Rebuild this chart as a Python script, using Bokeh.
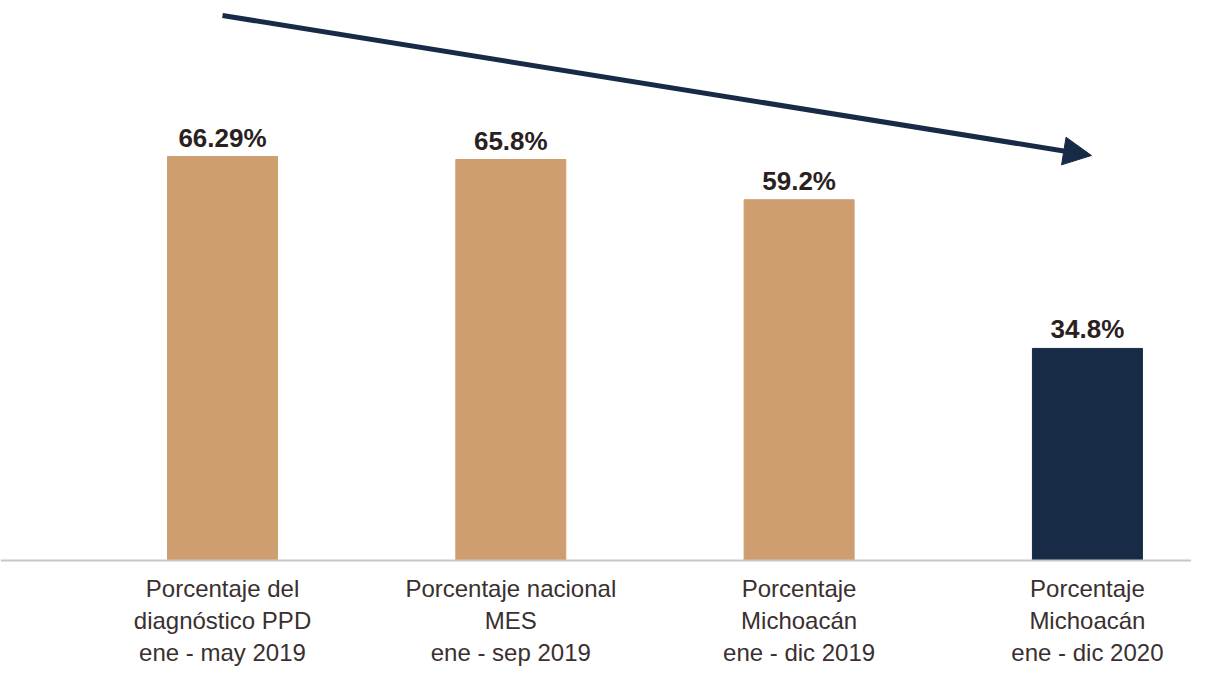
from bokeh.plotting import figure
from bokeh.models import ColumnDataSource, Range1d, Span, Arrow, NormalHead
from bokeh.core.properties import value
from bokeh.embed import file_html
from bokeh.resources import INLINE

# Data
categories = [
    "Porcentaje del\ndiagnóstico PPD\nene - may 2019",
    "Porcentaje nacional\nMES\nene - sep 2019",
    "Porcentaje\nMichoacán\nene - dic 2019",
    "Porcentaje\nMichoacán\nene - dic 2020",
]
values = [66.29, 65.8, 59.2, 34.8]
value_labels = ["66.29%", "65.8%", "59.2%", "34.8%"]
colors = ["#CE9E70", "#CE9E70", "#CE9E70", "#172B46"]

xs = list(range(len(categories)))
src = ColumnDataSource(dict(x=xs, top=values, lab=value_labels, cat=categories, color=colors))

p = figure(width=1191, height=678, output_backend="svg", toolbar_location=None,
           x_range=Range1d(-0.770, 3.361), y_range=Range1d(-19.36, 91.89),
           min_border=0, outline_line_color=None, background_fill_color="white",
           border_fill_color="white")
p.xaxis.visible = False
p.yaxis.visible = False
p.xgrid.visible = False
p.ygrid.visible = False

p.vbar(x="x", top="top", bottom=0, width=0.3815, color="color", source=src)

p.add_layout(Span(location=0, dimension="width", line_color="#C9C7C5", line_width=2))

p.text(x="x", y="top", text="lab", source=src, text_align="center",
       text_baseline="alphabetic", y_offset=-19, text_font=value("Liberation Sans"),
       text_font_style="bold", text_font_size="26px", text_color="#2B1F1F")

p.text(x="x", y=0, text="cat", source=src, text_align="center", text_baseline="top",
       y_offset=14, text_font=value("Liberation Sans"), text_font_size="24px",
       text_color="#3A3030", text_line_height=1.2)

# Trend arrow (decoration)
p.add_layout(Arrow(x_start=0, y_start=89.43, x_end=3.014, y_end=66.46,
                   line_color="#172B46", line_width=5,
                   end=NormalHead(size=28, fill_color="#172B46", line_color="#172B46")))

open("out.html", "w").write(file_html(p, INLINE))
